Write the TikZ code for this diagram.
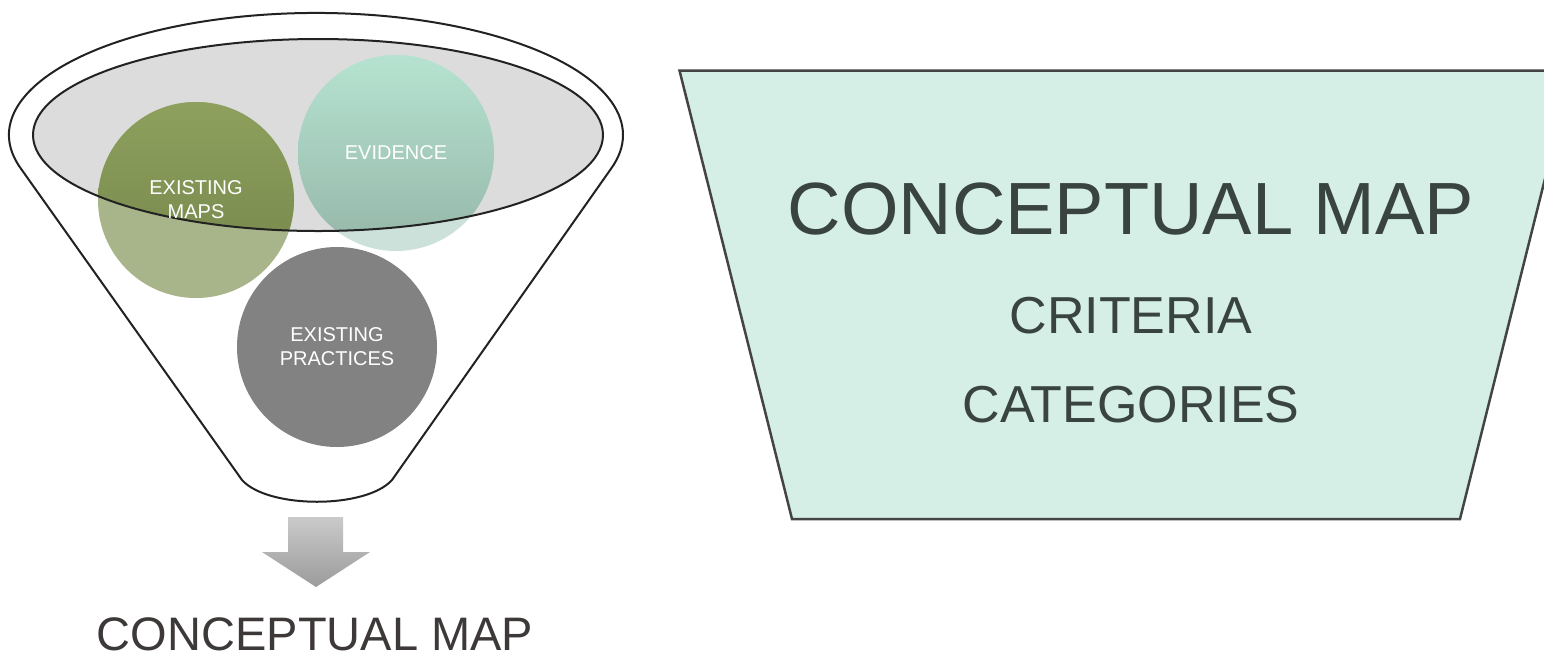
\documentclass[tikz,border=0pt]{standalone}
\usepackage{fontspec}
\setmainfont{Liberation Sans}
\definecolor{outline}{HTML}{222222}
\definecolor{ellfill}{HTML}{DCDCDC}
\definecolor{greentop}{HTML}{8DA05D}
\definecolor{greenbot}{HTML}{72854A}
\definecolor{greenlight}{HTML}{A8B48A}
\definecolor{tealtop}{HTML}{B6E3D1}
\definecolor{tealbot}{HTML}{95B6A8}
\definecolor{teallight}{HTML}{CCE1D9}
\definecolor{greyc}{HTML}{828282}
\definecolor{trapfill}{HTML}{D5EFE6}
\definecolor{traptext}{HTML}{39433F}
\definecolor{trapline}{HTML}{444444}
\definecolor{arrowtop}{HTML}{CACACA}
\definecolor{arrowbot}{HTML}{9B9B9B}
\definecolor{bottext}{HTML}{3D3939}
\begin{document}
\begin{tikzpicture}[x=1pt,y=-1pt,
  circtext/.style={text=white,font=\fontsize{20}{24}\selectfont,align=center,inner sep=0pt},
  traptitle/.style={text=traptext,font=\fontsize{74}{80}\selectfont,inner sep=0pt},
  trapitem/.style={text=traptext,font=\fontsize{52}{58}\selectfont,inner sep=0pt}]
\useasboundingbox (0,0) rectangle (1544,657);
% funnel body
\draw[line width=2pt,draw=outline,fill=white]
  (20.9,168.6) arc[start angle=164,end angle=376,x radius=307,y radius=122]
  -- (392,480) .. controls (366,509) and (268,509) .. (242,480) -- cycle;
% inner ellipse
\fill[ellfill] (318,135) ellipse[x radius=285,y radius=96];
% circles, light parts
\fill[greenlight] (196,200) circle[radius=98];
\fill[teallight] (396,153) circle[radius=98];
\fill[greyc] (337,347) circle[radius=100];
% solid parts inside the ellipse
\begin{scope}
  \clip (318,135) ellipse[x radius=285,y radius=96];
  \shade[top color=greentop,bottom color=greenbot] (196,200) circle[radius=98];
  \shade[top color=tealtop,bottom color=tealbot] (396,153) circle[radius=98];
\end{scope}
\draw[line width=2pt,draw=outline] (318,135) ellipse[x radius=285,y radius=96];
\node[circtext] (maps) at (196,200) {EXISTING\\MAPS};
\node[circtext] (evid) at (396,153) {EVIDENCE};
\node[circtext] (prac) at (337,347) {EXISTING\\PRACTICES};
% arrow
\shade[top color=arrowtop,bottom color=arrowbot]
  (288,517) -- (343,517) -- (343,552) -- (370,552) -- (316,587) -- (262,552) -- (288,552) -- cycle;
\node[text=bottext,font=\fontsize{47}{52}\selectfont,inner sep=0pt] (out) at (315,634) {CONCEPTUAL MAP};
% trapezoid
\draw[line width=2.5pt,draw=trapline,fill=trapfill]
  (679.5,70.5) -- (1572,70.5) -- (1460,519) -- (792,519) -- cycle;
\node[traptitle] (cm) at (1131,209) {CONCEPTUAL MAP};
\node[trapitem] (crit) at (1131,316) {CRITERIA};
\node[trapitem] (cat) at (1131,405) {CATEGORIES};
\end{tikzpicture}
\end{document}
